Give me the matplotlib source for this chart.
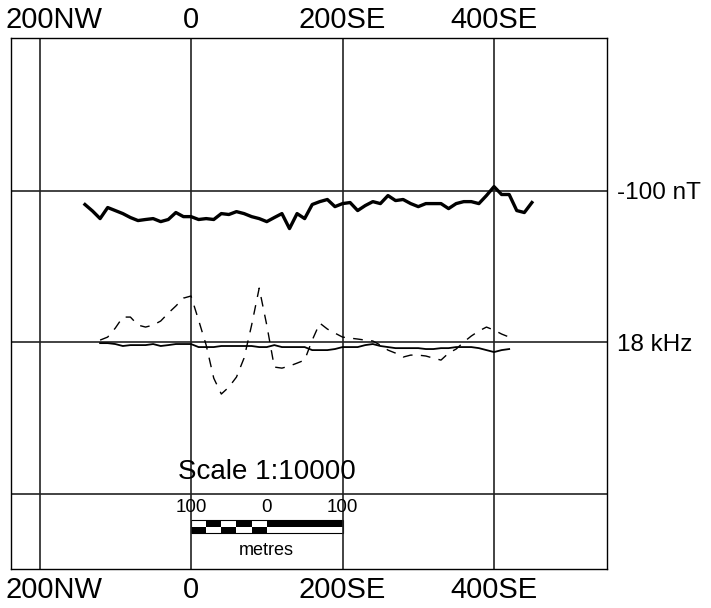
import matplotlib.pyplot as plt
import numpy as np
from matplotlib.patches import Rectangle
from matplotlib.transforms import ScaledTranslation

plt.rcParams['font.family'] = ['Liberation Sans', 'DejaVu Sans']

# station positions in metres (negative = NW, positive = SE)
mag_x = np.arange(-140, 451, 10)
mag_nT = [-109.2, -113.5, -118.5, -111.2, -113.2, -115.2, -117.8, -119.8, -119.1, -118.5,
          -120.5, -119.1, -114.5, -117.2, -117.2, -119.1, -118.5, -119.1, -115.2, -115.8,
          -113.9, -115.2, -117.2, -118.5, -120.5, -117.8, -115.2, -125.1, -115.2, -118.5,
          -109.2, -107.3, -105.9, -110.6, -108.6, -107.9, -113.2, -109.9, -107.3, -108.6,
          -103.3, -106.6, -105.9, -108.6, -110.6, -108.6, -108.6, -108.6, -111.9, -108.6,
          -107.3, -107.3, -108.6, -103.3, -97.4, -102.6, -102.6, -113.2, -114.5, -107.9]

em_x = np.arange(-120, 421, 10)
em_inphase = [1.3, 3.3, 9.2, 16.5, 16.5, 11.2, 9.9, 11.2, 13.9, 19.1,
              23.8, 29.0, 30.4, 14.5, -2.0, -23.8, -34.3, -29.7, -23.1, -10.6,
              11.2, 35.6, 11.2, -16.5, -17.2, -15.8, -13.9, -11.9, 1.3, 12.5,
              8.6, 5.9, 3.3, 2.6, 2.0, 1.3, 0.7, -2.0, -5.3, -7.3,
              -9.9, -8.6, -8.6, -9.2, -10.6, -11.9, -7.3, -4.6, 0.0, 4.0,
              7.3, 9.9, 7.9, 5.3, 3.3]
em_quad = [-0.7, -0.7, -1.3, -2.6, -2.0, -2.0, -2.0, -1.3, -2.6, -2.0,
           -1.3, -1.3, -1.3, -3.3, -3.3, -3.3, -2.6, -2.6, -2.6, -2.6,
           -2.6, -3.3, -3.3, -2.0, -3.3, -3.3, -3.3, -3.3, -5.3, -5.3,
           -5.3, -4.6, -3.3, -3.3, -3.3, -2.0, -1.3, -2.6, -3.3, -4.0,
           -4.0, -4.0, -4.0, -4.6, -4.6, -4.0, -4.0, -3.3, -3.3, -3.3,
           -4.0, -5.3, -6.6, -5.3, -4.6]

x_ticks = [-200, 0, 200, 400]
x_labels = ['200NW', '0', '200SE', '400SE']
y_ticks = [-1, 0, 1]
y_labels = ['', '18 kHz', '-100 nT']

fig = plt.figure(figsize=(7.11, 6.08), dpi=100)
ax = fig.add_axes([0.0155, 0.0641, 0.8383, 0.8734])

# profiles: magnetics offset to the upper baseline, EM around the lower one
ax.plot(mag_x, 1 + (np.array(mag_nT) + 100) / 100, color='black', lw=2.4)
ax.plot(em_x, np.array(em_inphase) / 100, color='black', lw=1.0, ls=(0, (7, 6)))
ax.plot(em_x, np.array(em_quad) / 100, color='black', lw=1.3)

ax.set_xlim(-237.6, 549.2)
ax.set_ylim(-1.498, 2.007)
ax.set_xticks(x_ticks)
ax.set_xticklabels(x_labels, family=['Liberation Sans Narrow', 'Liberation Sans'], fontsize=21)
ax.tick_params(axis='x', length=0, top=True, labeltop=True, pad=5)
ax.set_yticks(y_ticks)
ax.set_yticklabels(y_labels, fontsize=17.5)
ax.tick_params(axis='y', length=0, left=False, labelleft=False, right=True, labelright=True, pad=7)
ax.grid(True, color='#222222', lw=1.2)
for s in ax.spines.values():
    s.set_linewidth(1.0)

for i, t in enumerate(ax.xaxis.get_major_ticks()):
    dx = 0.14 if i == 0 else 0
    t.label1.set_transform(t.label1.get_transform() + ScaledTranslation(dx, 0, fig.dpi_scale_trans))
    t.label2.set_transform(t.label2.get_transform() + ScaledTranslation(dx, -0.03, fig.dpi_scale_trans))

# scale bar
ax.text(100, -0.858, 'Scale 1:10000', ha='center', va='center', fontsize=20)
for xv, lab in zip([0, 100, 200], ['100', '0', '100']):
    ax.text(xv, -1.09, lab, ha='center', va='center', fontsize=13.5)
y_top, y_mid, y_bot = -1.175, -1.218, -1.261
seg = [0, 20, 40, 60, 80, 100]
for i in range(5):
    top_c = 'white' if i % 2 == 0 else 'black'
    bot_c = 'black' if i % 2 == 0 else 'white'
    ax.add_patch(Rectangle((seg[i], y_mid), 20, y_top - y_mid, color=top_c, lw=0))
    ax.add_patch(Rectangle((seg[i], y_bot), 20, y_mid - y_bot, color=bot_c, lw=0))
ax.add_patch(Rectangle((100, y_mid), 100, y_top - y_mid, color='black', lw=0))
ax.add_patch(Rectangle((0, y_bot), 200, y_top - y_bot, fill=False, ec='black', lw=0.8))
ax.text(100, -1.373, 'metres', ha='center', va='center', fontsize=13)

fig.savefig('out.png', dpi=100)
